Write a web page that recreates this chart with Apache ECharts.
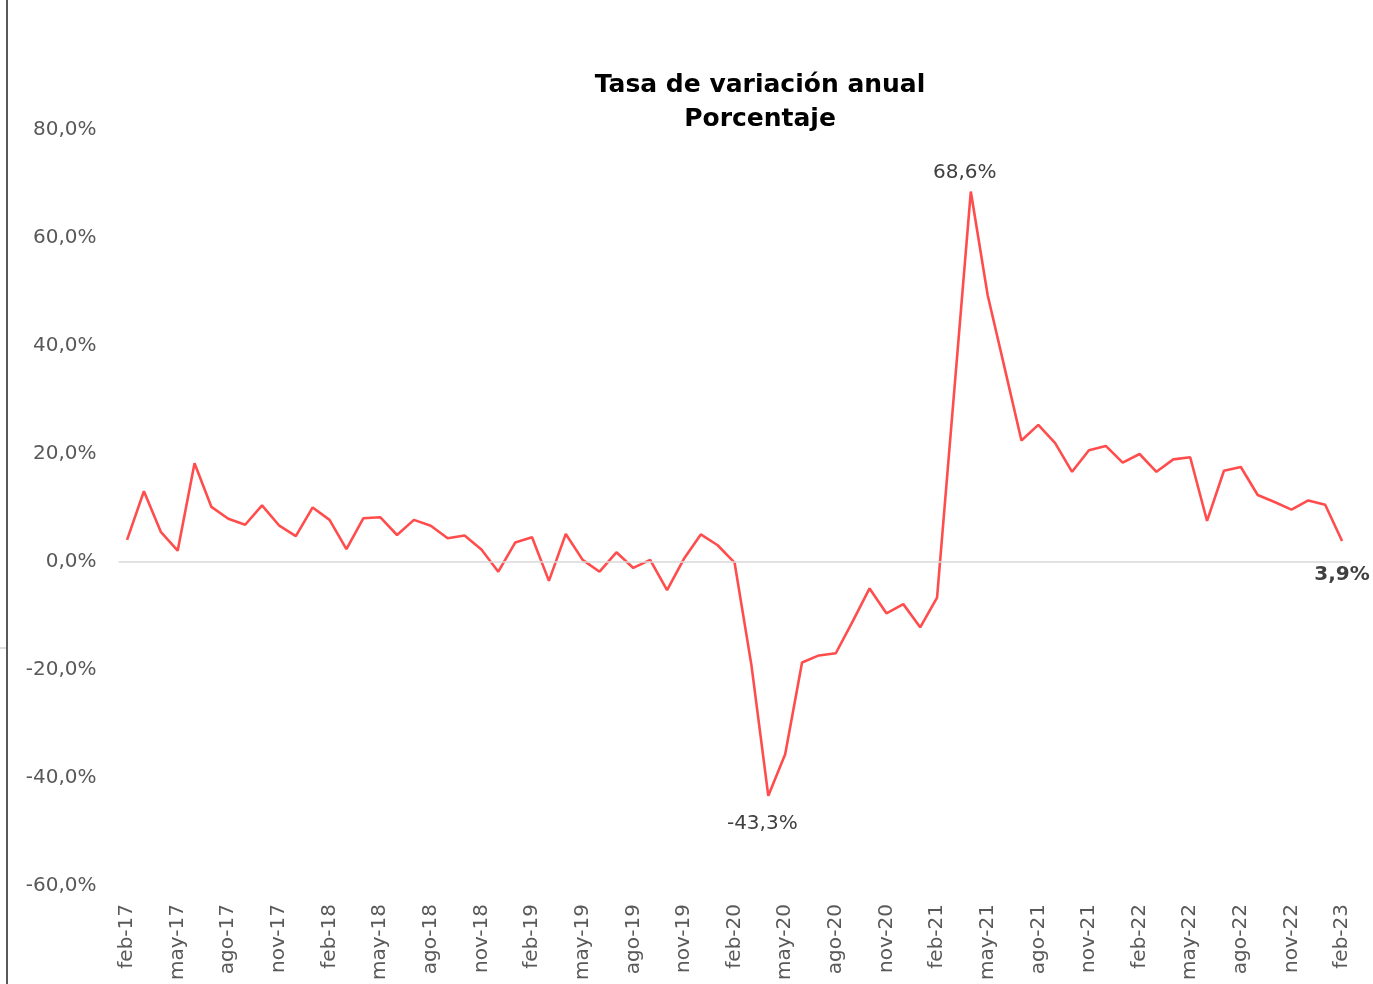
<!DOCTYPE html>
<html>
<head>
<meta charset="utf-8">
<script src="https://cdn.jsdelivr.net/npm/echarts@6/dist/echarts.min.js"></script>
<style>
html,body{margin:0;padding:0;background:#fff;}
#chart{width:1373px;height:984px;}
</style>
</head>
<body>
<div id="chart"></div>
<script>
const monthNames = ['ene','feb','mar','abr','may','jun','jul','ago','sep','oct','nov','dic'];
const categories = [];
for (let y = 2017, m = 1; ; ) {
  categories.push(monthNames[m] + '-' + String(y).slice(2));
  if (y === 2023 && m === 1) break;
  m++; if (m === 12) { m = 0; y++; }
}

const values = [
  // 2017 feb-dic
  4.1, 13.1, 5.6, 2.1, 18.3, 10.2, 8.0, 6.9, 10.5, 6.8, 4.8,
  // 2018
  10.1, 7.8, 2.4, 8.1, 8.3, 5.0, 7.8, 6.7, 4.4, 4.9, 2.3, -1.8,
  // 2019
  3.6, 4.6, -3.5, 5.2, 0.4, -1.8, 1.8, -1.1, 0.4, -5.2, 0.6, 5.1,
  // 2020
  3.1, -0.1, -19.1, -43.3, -35.6, -18.6, -17.3, -16.9, -11.0, -4.9, -9.5, -7.8,
  // 2021
  -12.1, -6.6, 31.0, 68.6, 49.4, 36.0, 22.5, 25.4, 22.0, 16.7, 20.7, 21.5,
  // 2022
  18.4, 20.0, 16.7, 19.0, 19.4, 7.6, 16.9, 17.6, 12.4, 11.1, 9.7, 11.4,
  // 2023
  10.6, 3.9
];

const labeledPoints = { 'abr-20': 'bottom', 'abr-21': 'top', 'feb-23': 'last' };
const yTicks = { min: -60, max: 80, interval: 20 };

const fmt = v => v.toFixed(1).replace('.', ',') + '%';
const FONT = 'DejaVu Sans';

const seriesData = values.map((v, i) => {
  const c = categories[i];
  const kind = labeledPoints[c];
  if (!kind) return v;
  const base = { color: '#404040', fontSize: 20, fontFamily: FONT, formatter: p => fmt(p.value), show: true };
  if (kind === 'top') {
    return { value: v, label: Object.assign({}, base, { position: 'top', distance: 9, offset: [-6, 0] }) };
  }
  if (kind === 'bottom') {
    return { value: v, label: Object.assign({}, base, { position: 'bottom', distance: 18, offset: [-6, 0] }) };
  }
  return { value: v, label: Object.assign({}, base, { position: 'bottom', distance: 24, fontWeight: 'bold' }) };
});

const chart = echarts.init(document.getElementById('chart'));
chart.setOption({
  animation: false,
  backgroundColor: '#ffffff',
  title: {
    text: 'Tasa de variación anual\nPorcentaje',
    left: 755,
    top: 63,
    textAlign: 'center',
    textStyle: { fontFamily: FONT, fontWeight: 'bold', fontSize: 25, color: '#000', lineHeight: 34 }
  },
  grid: { left: 118.6, right: 22.5, top: 130, bottom: 98, containLabel: false },
  xAxis: {
    type: 'category',
    data: categories,
    boundaryGap: true,
    axisLine: { show: false },
    axisTick: { show: false },
    axisLabel: { interval: 2, rotate: 90, margin: 18, color: '#595959', fontSize: 20, fontFamily: FONT },
    splitLine: { show: false }
  },
  yAxis: {
    type: 'value',
    min: yTicks.min, max: yTicks.max, interval: yTicks.interval,
    axisLine: { show: false },
    axisTick: { show: false },
    splitLine: { show: false },
    axisLabel: { formatter: v => fmt(v), color: '#595959', fontSize: 20, fontFamily: FONT, margin: 22 }
  },
  series: [{
    type: 'line',
    data: seriesData,
    symbol: 'circle',
    symbolSize: 0.001,
    showSymbol: true,
    showAllSymbol: true,
    label: { show: false },
    lineStyle: { color: '#ff4d4d', width: 2.6 },
    itemStyle: { color: '#ff4d4d' },
    markLine: {
      silent: true,
      symbol: ['none', 'none'],
      label: { show: false },
      lineStyle: { color: '#d9d9d9', width: 1.5, type: 'solid' },
      data: [{ yAxis: 0 }]
    },
    z: 3
  }],
  graphic: [
    { type: 'line', shape: { x1: 7, y1: 0, x2: 7, y2: 984 }, style: { stroke: '#595959', lineWidth: 2 } },
    { type: 'line', shape: { x1: 0, y1: 648, x2: 6, y2: 648 }, style: { stroke: '#bfbfbf', lineWidth: 1 } }
  ]
});
</script>
</body>
</html>
